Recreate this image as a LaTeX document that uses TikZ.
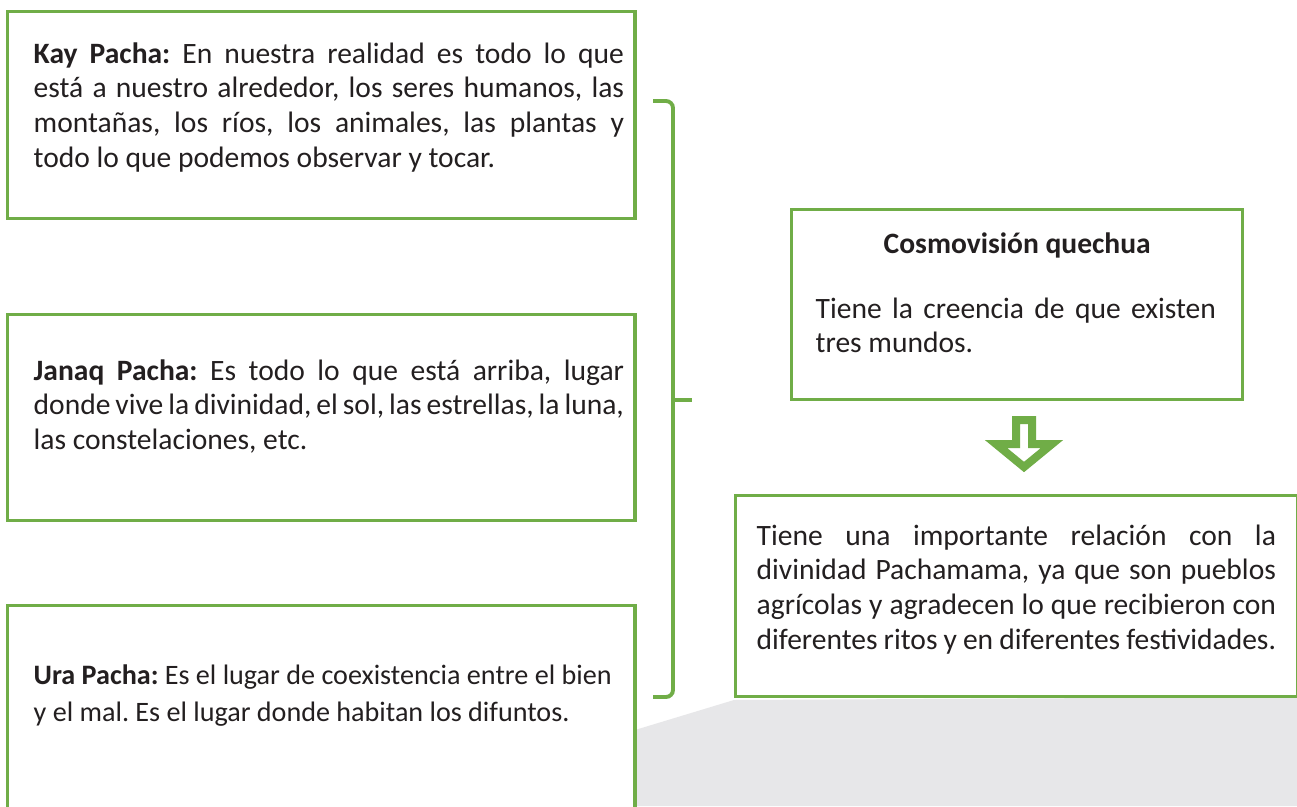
\documentclass[tikz,border=0pt]{standalone}
\usepackage{fontspec}
\setmainfont{Carlito}
\usetikzlibrary{positioning}
\definecolor{verde}{HTML}{70AD47}
\definecolor{gris}{HTML}{E7E7E9}
\definecolor{tinta}{HTML}{231F20}

\begin{document}
\begin{tikzpicture}[
    x=0.01cm, y=-0.01cm,
    caja/.style={draw=verde, line width=0.9pt, fill=white, anchor=north west, inner sep=0pt},
    texto/.style={anchor=base west, inner sep=0pt, text=tinta, font=\fontsize{8.4pt}{9.9pt}\selectfont\frenchspacing, text width=5.9cm, align=justify},
    llave/.style={draw=verde, line width=1.1pt, rounded corners=2pt},
    bloque/.style={draw=verde, line width=0.08cm, fill=white, line join=miter}
]
\useasboundingbox (0,0) rectangle (1297,806);
\clip (0,0) rectangle (1297,806);
\fill[white] (0,0) rectangle (1297,806);
\fill[gris] (635,806) -- (635,730) -- (734,700) -- (1297,697) -- (1297,806) -- cycle;

% los tres mundos
\node[caja, minimum width=6.27cm, minimum height=2.07cm] (kay) at (6,10) {};
\node[caja, minimum width=6.27cm, minimum height=2.06cm] (janaq) at (6,313) {};
\node[caja, minimum width=6.27cm, minimum height=2.30cm] (ura) at (6,604) {};

\node[texto] (kaytxt) at ([shift={(27,53)}]kay.north west) {\textbf{Kay Pacha:} En nuestra realidad es todo lo que\linebreak está a nuestro alrededor, los seres humanos, las\linebreak montañas, los ríos, los animales, las plantas y\linebreak todo lo que podemos observar y tocar.};
\node[texto] (janaqtxt) at ([shift={(27,67)}]janaq.north west) {\textbf{Janaq Pacha:} Es todo lo que está arriba, lugar\linebreak donde vive la divinidad, el sol, las estrellas, la luna,\linebreak las constelaciones, etc.};
\node[texto, text width=, align=left, font=\fontsize{8.0pt}{10.4pt}\selectfont\frenchspacing] (uratxt) at ([shift={(27,117)}]ura.north west) {\textbf{Ura Pacha:} Es el lugar de coexistencia entre el bien\\y el mal. Es el lugar donde habitan los difuntos.};

% llave
\draw[llave] (653,101) -- (673,101) -- (673,697) -- (653,697);
\draw[llave, rounded corners=0pt] (673,400) -- (692,400);

% cosmovision
\node[caja, minimum width=4.51cm, minimum height=1.90cm] (cosmo) at (790,208) {};
\node[texto, anchor=base, text width=, align=center] (cosmotit) at ([yshift=-0.45cm]cosmo.north) {\textbf{Cosmovisión quechua}};
\node[texto, text width=4.0cm] (cosmotxt) at ([shift={(25,110)}]cosmo.north west) {Tiene la creencia de que existen\linebreak tres mundos.};

\node[caja, minimum width=5.62cm, minimum height=2.01cm] (relacion) at (734,494) {};
\node[texto, text width=5.19cm] (relaciontxt) at ([shift={(22,51)}]relacion.north west) {Tiene una importante relación con la\linebreak divinidad Pachamama, ya que son pueblos\linebreak agrícolas y agradecen lo que recibieron con\linebreak diferentes ritos y en diferentes festividades.};

% flecha
\coordinate (flecha) at (1024,420);
\draw[bloque] (flecha) ++(-8,0) -- ++(16,0) -- ++(0,24) -- ++(20,0) -- (1024,467) -- (996,444) -- ++(20,0) -- cycle;
\end{tikzpicture}
\end{document}
